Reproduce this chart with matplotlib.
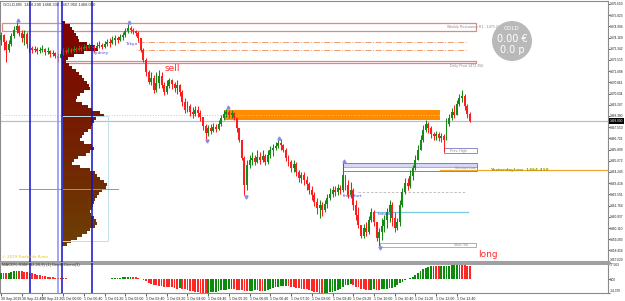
import numpy as np
import matplotlib
matplotlib.use('Agg')  # no display
import matplotlib.pyplot as plt
from matplotlib.patches import Rectangle, Ellipse
from matplotlib.colors import LinearSegmentedColormap

W, H = 625, 301
NARROW = ['Liberation Sans', 'DejaVu Sans']

# ---------------- data (GOLD, M5) ----------------
first_open = 1473.99
close = [
    1474.36, 1473.84, 1473.25, 1473.70, 1474.29, 1474.73, 1475.03, 1474.51, 1474.14, 1474.43,
    1473.70, 1473.40, 1473.25, 1473.33, 1473.18, 1473.25, 1473.33, 1473.11, 1473.18, 1472.96,
    1473.03, 1472.81, 1472.66, 1472.96, 1473.18, 1473.11, 1473.25, 1473.18, 1473.33, 1473.25,
    1473.40, 1473.33, 1473.47, 1473.40, 1473.55, 1473.47, 1473.40, 1473.55, 1473.62, 1473.47,
    1473.70, 1473.84, 1473.77, 1473.99, 1474.14, 1473.99, 1474.21, 1474.36, 1474.66, 1474.88,
    1474.73, 1474.66, 1474.51, 1474.14, 1473.25, 1472.52, 1471.63, 1470.89, 1471.18, 1470.30,
    1470.82, 1471.33, 1470.67, 1470.15, 1470.60, 1471.04, 1470.74, 1470.45, 1470.67, 1470.15,
    1469.41, 1468.82, 1469.12, 1468.68, 1468.53, 1468.82, 1468.60, 1468.31, 1467.64, 1467.13,
    1467.49, 1467.27, 1467.57, 1467.42, 1467.79, 1468.23, 1468.53, 1468.68, 1468.46, 1468.60,
    1468.23, 1467.49, 1466.61, 1465.28, 1463.29, 1464.76, 1465.13, 1465.28, 1464.99, 1465.35,
    1465.13, 1465.43, 1464.99, 1465.50, 1465.87, 1466.02, 1466.17, 1466.39, 1466.24, 1465.87,
    1465.28, 1464.99, 1464.54, 1464.84, 1464.25, 1463.80, 1464.03, 1463.66, 1463.36, 1462.92,
    1462.55, 1462.03, 1461.59, 1461.81, 1461.44, 1461.88, 1462.33, 1462.62, 1462.92, 1462.77,
    1463.07, 1462.92, 1464.03, 1463.29, 1462.55, 1462.92, 1461.81, 1461.07, 1460.33, 1459.52,
    1460.11, 1459.82, 1460.70, 1461.29, 1460.56, 1459.37, 1459.82, 1460.26, 1460.70, 1461.29,
    1461.81, 1460.85, 1460.11, 1460.56, 1461.81, 1462.77, 1463.43, 1463.21, 1463.95, 1464.54,
    1465.13, 1465.87, 1466.61, 1467.35, 1467.79, 1467.49, 1467.05, 1466.90, 1467.05, 1466.76,
    1466.90, 1466.61, 1467.79, 1468.23, 1468.68, 1468.46, 1469.27, 1469.71, 1469.86, 1469.12,
    1468.53, 1468.00]
high = [
    1474.58, 1474.43, 1473.99, 1473.99, 1474.51, 1475.03, 1475.32, 1475.10, 1474.73, 1474.73,
    1474.58, 1473.70, 1473.55, 1473.55, 1473.47, 1473.47, 1473.62, 1473.40, 1473.47, 1473.25,
    1473.25, 1473.11, 1473.03, 1473.25, 1473.40, 1473.33, 1473.47, 1473.40, 1473.55, 1473.47,
    1473.62, 1473.55, 1473.70, 1473.62, 1473.77, 1473.70, 1473.62, 1473.84, 1473.92, 1473.77,
    1473.92, 1474.07, 1474.14, 1474.29, 1474.36, 1474.29, 1474.43, 1474.58, 1474.88, 1475.17,
    1475.03, 1474.88, 1474.73, 1474.66, 1474.14, 1473.40, 1472.66, 1471.78, 1471.63, 1471.41,
    1471.63, 1471.78, 1471.63, 1470.89, 1471.04, 1471.18, 1471.11, 1470.89, 1471.04, 1470.74,
    1470.30, 1469.71, 1469.49, 1469.27, 1469.05, 1469.12, 1469.12, 1468.82, 1468.23, 1467.79,
    1467.72, 1467.79, 1467.86, 1467.79, 1468.09, 1468.46, 1468.82, 1468.90, 1468.82, 1468.82,
    1468.68, 1468.23, 1467.49, 1466.61, 1465.43, 1465.13, 1465.50, 1465.72, 1465.50, 1465.87,
    1465.72, 1465.87, 1465.58, 1465.87, 1466.17, 1466.31, 1466.46, 1466.61, 1466.68, 1466.31,
    1466.02, 1465.50, 1465.13, 1465.13, 1464.99, 1464.39, 1464.25, 1464.25, 1463.95, 1463.51,
    1463.21, 1462.77, 1462.33, 1462.18, 1462.03, 1462.18, 1462.62, 1463.07, 1463.21, 1463.21,
    1463.36, 1463.29, 1464.91, 1463.95, 1463.66, 1463.51, 1463.07, 1462.18, 1461.66, 1460.33,
    1460.41, 1460.56, 1461.00, 1461.59, 1461.44, 1460.56, 1460.11, 1460.85, 1461.07, 1461.59,
    1462.18, 1462.03, 1461.29, 1460.85, 1462.18, 1463.07, 1463.80, 1463.80, 1464.39, 1464.76,
    1465.50, 1466.24, 1466.98, 1467.72, 1468.09, 1467.94, 1467.64, 1467.20, 1467.27, 1467.20,
    1467.13, 1467.05, 1468.23, 1468.53, 1468.97, 1469.19, 1469.56, 1470.00, 1470.30, 1470.00,
    1469.27, 1468.68]
low = [
    1473.62, 1473.25, 1472.37, 1473.11, 1473.55, 1474.14, 1474.51, 1474.29, 1473.84, 1473.62,
    1473.40, 1473.11, 1473.03, 1473.11, 1472.96, 1473.03, 1473.11, 1472.88, 1472.96, 1472.74,
    1472.81, 1472.66, 1472.37, 1472.66, 1472.88, 1472.96, 1473.03, 1473.03, 1473.11, 1473.11,
    1473.18, 1473.18, 1473.25, 1473.25, 1473.33, 1473.25, 1473.11, 1473.33, 1473.40, 1473.33,
    1473.40, 1473.55, 1473.47, 1473.70, 1473.62, 1473.77, 1473.92, 1473.99, 1474.21, 1474.51,
    1474.51, 1474.43, 1474.29, 1473.84, 1473.11, 1472.37, 1471.33, 1470.74, 1470.67, 1470.08,
    1470.15, 1470.45, 1470.45, 1469.93, 1470.00, 1470.45, 1470.37, 1470.15, 1470.00, 1469.86,
    1469.12, 1468.60, 1468.68, 1468.38, 1468.23, 1468.38, 1468.31, 1468.01, 1467.35, 1466.68,
    1466.90, 1467.05, 1467.20, 1467.20, 1467.35, 1467.64, 1468.09, 1468.31, 1468.23, 1468.23,
    1468.09, 1467.20, 1466.46, 1465.13, 1462.55, 1462.92, 1464.54, 1464.76, 1464.76, 1464.91,
    1464.84, 1464.99, 1464.76, 1464.84, 1465.28, 1465.43, 1465.87, 1466.02, 1465.87, 1465.72,
    1465.06, 1464.69, 1464.25, 1464.25, 1463.95, 1463.51, 1463.43, 1463.29, 1462.92, 1462.62,
    1462.18, 1461.74, 1461.15, 1460.85, 1461.00, 1461.29, 1461.59, 1462.18, 1462.40, 1462.47,
    1462.55, 1462.62, 1462.77, 1462.92, 1462.33, 1462.33, 1461.44, 1460.70, 1460.11, 1459.37,
    1459.37, 1459.52, 1459.67, 1460.56, 1460.26, 1459.15, 1458.78, 1459.23, 1459.82, 1460.11,
    1460.56, 1460.26, 1459.82, 1459.96, 1460.26, 1461.66, 1462.62, 1462.92, 1463.07, 1463.66,
    1464.39, 1465.28, 1465.87, 1466.46, 1467.20, 1467.13, 1466.76, 1466.61, 1466.61, 1466.54,
    1466.46, 1465.72, 1466.61, 1467.64, 1468.09, 1468.23, 1468.53, 1469.12, 1469.41, 1468.82,
    1468.23, 1467.94]

# OsMA histogram in the sub window
osma = [
    7.0, 6.8, 6.5, 7.2, 8.0, 8.8, 9.3, 9.0, 8.6, 8.2, 7.6,
    7.0, 6.4, 5.8, 5.2, 4.7, 4.1, 3.6, 3.1,
    2.7, 2.3, 2.0, 1.8, 1.5, 1.3, 1.1, 0.9, 0.8, 0.6, 0.5, 0.4,
    0.3, 0.3, 0.2, 0.2, 0.3, 0.2, 0.2, 0.3, 0.4, 0.5, 0.7, 0.9, 1.1,
    1.4, 1.7, 2.0, 2.3, 2.6, 2.8, 2.9, 2.7, 2.4, 2.0,
    1.0, -0.5, -2.0, -3.5,
    -4.5, -5.5, -6.0, -6.5, -7.0, -7.5, -7.8,
    -8.0, -8.5, -9.0, -9.6, -9.3, -9.8, -10.5, -11.5,
    -12.0, -12.5, -13.2, -13.6, -14.0, -14.2, -14.3, -14.0,
    -13.5, -13.2, -12.8, -12.2, -11.6, -11.0,
    -10.7, -10.5, -10.4, -10.5, -10.8, -11.0,
    -11.5, -12.0, -12.3, -12.0, -11.8, -11.5, -11.7, -12.0,
    -12.2, -12.0, -11.5, -10.5, -9.5, -8.5,
    -7.5, -7.1, -6.8, -6.8, -7.0,
    -7.5, -8.2, -8.8, -9.3, -9.6, -9.8, -10.0,
    -10.8, -12.0, -13.0, -13.6, -14.0, -14.2,
    -14.2, -14.0, -13.5, -12.8, -12.0, -11.4,
    -10.0, -7.5, -6.0, -5.5, -5.0, -6.0,
    -7.5, -8.5, -9.6, -10.5, -11.0, -11.4, -11.0, -10.5,
    -10.8, -11.0, -10.5, -10.0, -9.6, -9.3, -9.0,
    -7.5, -5.5, -4.0, -2.5, -1.0, 0.2,
    1.5, 3.0, 5.0, 7.0, 9.0, 11.0, 12.5,
    13.5, 14.2, 14.5, 14.3, 14.0, 14.2,
    14.3, 14.5, 14.8, 15.0, 15.2, 15.3, 15.5,
    15.3, 15.0, 14.6, 14.0]

# volume profile (top bin price, bin size, volumes from top to bottom)
profile_top = 1475.25
profile_bin = 0.2215
profile_volume = [3, 8, 10, 12, 14, 16, 17, 25, 33, 36, 22, 12, 6, 4, 7, 10, 14, 17, 20, 22,
                  25, 27, 28, 22, 18, 15, 14, 20, 26, 30, 38, 42, 34, 32, 30, 29, 26, 22, 20, 18,
                  22, 30, 32, 28, 24, 16, 12, 10, 18, 28, 33, 35, 38, 42, 45, 44, 40, 37, 35, 33,
                  32, 31, 30, 28, 29, 32, 34, 35, 33, 28, 25, 20, 15, 9, 5]
profile_start_bar = 23.55

time_labels = ["30 Sep 2019", "30 Sep 22:40", "30 Sep 23:20", "1 Oct 00:00", "1 Oct 00:40",
               "1 Oct 01:20", "1 Oct 02:00", "1 Oct 02:40", "1 Oct 03:20", "1 Oct 04:00",
               "1 Oct 04:40", "1 Oct 05:20", "1 Oct 06:00", "1 Oct 06:40", "1 Oct 07:20",
               "1 Oct 08:00", "1 Oct 08:40", "1 Oct 09:20", "1 Oct 10:00", "1 Oct 10:40",
               "1 Oct 11:20", "1 Oct 12:00", "1 Oct 12:40"]
price_ticks = [1476.650, 1475.823, 1474.996, 1474.169, 1473.342, 1472.515, 1471.688, 1470.861,
               1470.034, 1469.207, 1468.380, 1467.553, 1466.726, 1465.899, 1465.072, 1464.245,
               1463.418, 1462.591, 1461.764, 1460.937, 1460.110, 1459.283, 1458.456, 1457.629]
osma_ticks = [17.563, 0.0, -14.370]
osma_tick_labels = ["17.563", "0.00", "-14.370"]
bid = 1468.00
yesterday_low = 1464.41

# session lines (bar positions)
session_lines = [11.2, 22.2, 23.36, 35.1]
session_colors = ['#1010c8', '#8c8cf0', '#1010c8', '#1010c8']

# ---------------- figure ----------------
fig = plt.figure(figsize=(W / 100, H / 100), dpi=100)
fig.patch.set_facecolor('white')


def px_box(x0, y0, x1, y1):
    return [x0 / W, 1 - y1 / H, (x1 - x0) / W, (y1 - y0) / H]


ax = fig.add_axes(px_box(0, 1, 608, 262))
axi = fig.add_axes(px_box(0, 263, 608, 293))
xlim = (-0.386, 234.36)
for a in (ax, axi):
    a.set_xlim(*xlim)
    a.set_facecolor('white')
    for s in a.spines.values():
        s.set_color('#8a8a8a')
        s.set_linewidth(0.8)
ax.spines['bottom'].set_linewidth(2.2)
ax.spines['bottom'].set_color('#a0a0a0')
axi.spines['top'].set_linewidth(2.2)
axi.spines['top'].set_color('#a0a0a0')
ax.set_ylim(1457.60, 1476.87)
axi.set_ylim(-14.37, 17.563)

n = len(close)
idx = np.arange(n)
opens = np.array([first_open] + close[:-1])
closes = np.array(close)
up = closes >= opens
cols = np.where(up, '#168a16', '#ff1c1c')
wick_hi = np.maximum(np.array(high), np.maximum(opens, closes))
wick_lo = np.minimum(np.array(low), np.minimum(opens, closes))

# zones and levels
ax.add_patch(Rectangle((86.1, 1468.05), 169.5 - 86.1, 1468.82 - 1468.05,
                       facecolor='#ff8c00', edgecolor='none', zorder=1))
ax.add_patch(Rectangle((0.39, 1474.68), 183.4 - 0.39, 1475.27 - 1474.68,
                       facecolor='none', edgecolor='#d98a8a', lw=0.9, zorder=1))
ax.add_patch(Rectangle((23.5, 1472.27), 183.4 - 23.5, 1472.46 - 1472.27,
                       facecolor='none', edgecolor='#d98a8a', lw=0.9, zorder=1))
for lv in (1473.82, 1473.25):
    ax.plot([52.9, 179.5], [lv, lv], color='#f0a070', lw=0.7, ls='-.', zorder=1)
ax.axhline(bid, color='#b4c0cc', lw=0.9, zorder=1)
ax.plot([0.77, 169.5], [1468.42, 1468.42], color='#a8d8d8', lw=0.7, ls=':', zorder=1)
ax.plot([6.95, 45.2], [1462.97, 1462.97], color='#ff6a6a', lw=0.7, zorder=4)

# volume profile
prof_prices = profile_top - profile_bin * np.arange(len(profile_volume))
prof_cmap = LinearSegmentedColormap.from_list('prof', ['#6c3f04', '#741e02', '#800000'])
pc = prof_cmap((prof_prices - prof_prices.min()) / (prof_prices.max() - prof_prices.min()))
ax.barh(prof_prices, np.array(profile_volume) / 2.59, left=profile_start_bar,
        height=profile_bin * 1.02, color=pc, linewidth=0, zorder=2)
ax.add_patch(Rectangle((23.55, 1459.15), 41.3 - 23.55, 1468.38 - 1459.15,
                       facecolor='none', edgecolor='#bfe0ea', lw=0.7, zorder=2))

# session boxes on the right
ax.add_patch(Rectangle((132.0, 1464.65), 183.8 - 132.0, 1464.91 - 1464.65,
                       facecolor='#d6d6f6', edgecolor='#a8a8e8', lw=0.7, zorder=1))
ax.add_patch(Rectangle((132.0, 1464.32), 183.8 - 132.0, 1464.91 - 1464.32,
                       facecolor='none', edgecolor='#7d7dd8', lw=0.7, zorder=1))
ax.add_patch(Rectangle((171.0, 1465.65), 183.8 - 171.0, 1466.02 - 1465.65,
                       facecolor='none', edgecolor='#8d8dc8', lw=0.7, zorder=1))
ax.add_patch(Rectangle((146.3, 1458.73), 183.4 - 146.3, 1459.03 - 1458.73,
                       facecolor='none', edgecolor='#a8b0b8', lw=0.7, zorder=1))
ax.plot([137.8, 179.2], [1462.79, 1462.79], color='#b8b8b8', lw=0.6, ls=(0, (3, 2)), zorder=1)
ax.plot([144.4, 180.3], [1461.27, 1461.27], color='#78c8e0', lw=0.9, zorder=1)
ax.plot([169.5, xlim[1]], [yesterday_low, yesterday_low], color='#f0a830', lw=0.9, zorder=1)

# candles
ax.vlines(idx, wick_lo, wick_hi, colors=cols, lw=0.75, zorder=3)
body = np.maximum(np.abs(closes - opens), 0.04)
ax.bar(idx, body, bottom=np.minimum(opens, closes), width=0.75, color=cols,
       linewidth=0, zorder=3)

# fractal markers
for b in (6, 49, 87, 107, 132):
    ax.plot(b + 0.5, high[b] + 0.12, marker='^', ms=2.2, color='#8a8ae6', zorder=4)
for b in (79, 94, 146):
    ax.plot(b + 0.5, low[b] - 0.12, marker='v', ms=2.2, color='#8a8ae6', zorder=4)

for sx, sc in zip(session_lines, session_colors):
    for a in (ax, axi):
        a.axvline(sx, color=sc, lw=1.1, zorder=5)

# texts on chart
small = dict(fontsize=2.6, color='#8a8a8a', zorder=6, family=NARROW)
ax.text(172.2, 1474.98, 'Weekly Resistance R1 - 1475.270', va='center', **small)
ax.text(173.4, 1472.22, 'Daily Pivot 1472.350', va='top', **small)
ax.text(173.4, 1465.83, 'Prev. High', va='center', **small)
ax.text(175.3, 1464.54, 'Session Low', va='center', **small)
ax.text(175.0, 1458.88, '1458.780', va='center', **small)
ax.text(47.9, 1473.70, 'Tokyo', fontsize=3.2, color='#4a4ad0', va='center', zorder=6)
ax.text(35.5, 1473.03, 'Sydney', fontsize=3.2, color='#4a4ad0', va='center', zorder=6)
ax.text(132.0, 1462.47, 'Frankfurt', fontsize=3.2, color='#4a4ad0', va='center', zorder=6)
ax.text(145.6, 1461.15, 'London', fontsize=3.2, color='#4a4ad0', va='center', zorder=6)
ax.text(63.3, 1471.92, 'sell', fontsize=6.5, color='#ff2a2a', va='center', zorder=6)
ax.text(184.2, 1458.19, 'long', fontsize=6.5, color='#ff2a2a', va='center', zorder=6)
ax.text(188.8, yesterday_low - 0.05, 'YesterdayLow  %.3f' % yesterday_low, fontsize=3.1,
        color='#a89600', fontweight='bold', va='center', zorder=6)
ax.text(0.5, 1457.95, '\u00a9 2019 TradeInfo Rimo', fontsize=2.8, color='#e6c200',
        va='center', zorder=6)
fig.text(3 / W, 1 - 5 / H, 'GOLD,M5  1468.290 1468.330 1467.950 1468.000',
         fontsize=3.0, color='#303030', va='center', family=NARROW)
axi.text(0.5, 15.5, 'MACD% RSM (12,26,9) (1) Demo-Demo(1)', fontsize=2.9,
         color='#404040', va='center', zorder=6, family=NARROW)

# profit circle
fig.patches.append(Ellipse((512 / W, 1 - 41 / H), 40 / W, 40 / H, transform=fig.transFigure,
                           facecolor='#b9b9b9', edgecolor='none'))
fig.text(512 / W, 1 - 29 / H, 'GOLD', fontsize=4, color='white', ha='center', va='center')
fig.text(512 / W, 1 - 39 / H, '0.00 \u20ac', fontsize=7, color='white', ha='center', va='center')
fig.text(512 / W, 1 - 50 / H, '0.0 p', fontsize=7, color='white', ha='center', va='center')

# price axis
ax.yaxis.tick_right()
shown = [t for t in price_ticks if abs(t - bid) > 0.35]
ax.set_yticks(shown)
ax.set_yticklabels(['%.3f' % t for t in shown])
ax.tick_params(axis='y', labelsize=2.3, length=1.2, width=0.5, pad=0.3, colors='#202020')
for lab in ax.get_yticklabels():
    lab.set_family(NARROW)
ax.get_yticklabels()[-1].set_va('bottom')
ax.set_xticks([])
ax.text(1.0022, bid, '%.3f' % bid, transform=ax.get_yaxis_transform(), fontsize=2.3,
        color='white', va='center', ha='left', family=NARROW,
        bbox=dict(boxstyle='square,pad=0.25', facecolor='black', edgecolor='none'))

# oscillator
hist_cols = ['#0b8a0b' if i == 0 or osma[i] >= osma[i - 1] else '#ff2626' for i in range(n)]
axi.bar(idx, osma, width=0.7, color=hist_cols, linewidth=0, zorder=3)
axi.yaxis.tick_right()
axi.set_yticks(osma_ticks)
axi.set_yticklabels(osma_tick_labels)
axi.tick_params(axis='y', labelsize=2.3, length=1.2, width=0.5, pad=0.3, colors='#202020')
axi.get_yticklabels()[0].set_va('top')
axi.get_yticklabels()[-1].set_va('bottom')
axi.set_xticks(np.arange(len(time_labels)) * 8)
axi.set_xticklabels(time_labels, ha='left')
axi.tick_params(axis='x', labelsize=2.5, length=2, width=0.5, pad=0.8, colors='#202020')
for lab in axi.get_xticklabels() + axi.get_yticklabels():
    lab.set_family(NARROW)

fig.savefig('out.png', dpi=100, facecolor='white')
